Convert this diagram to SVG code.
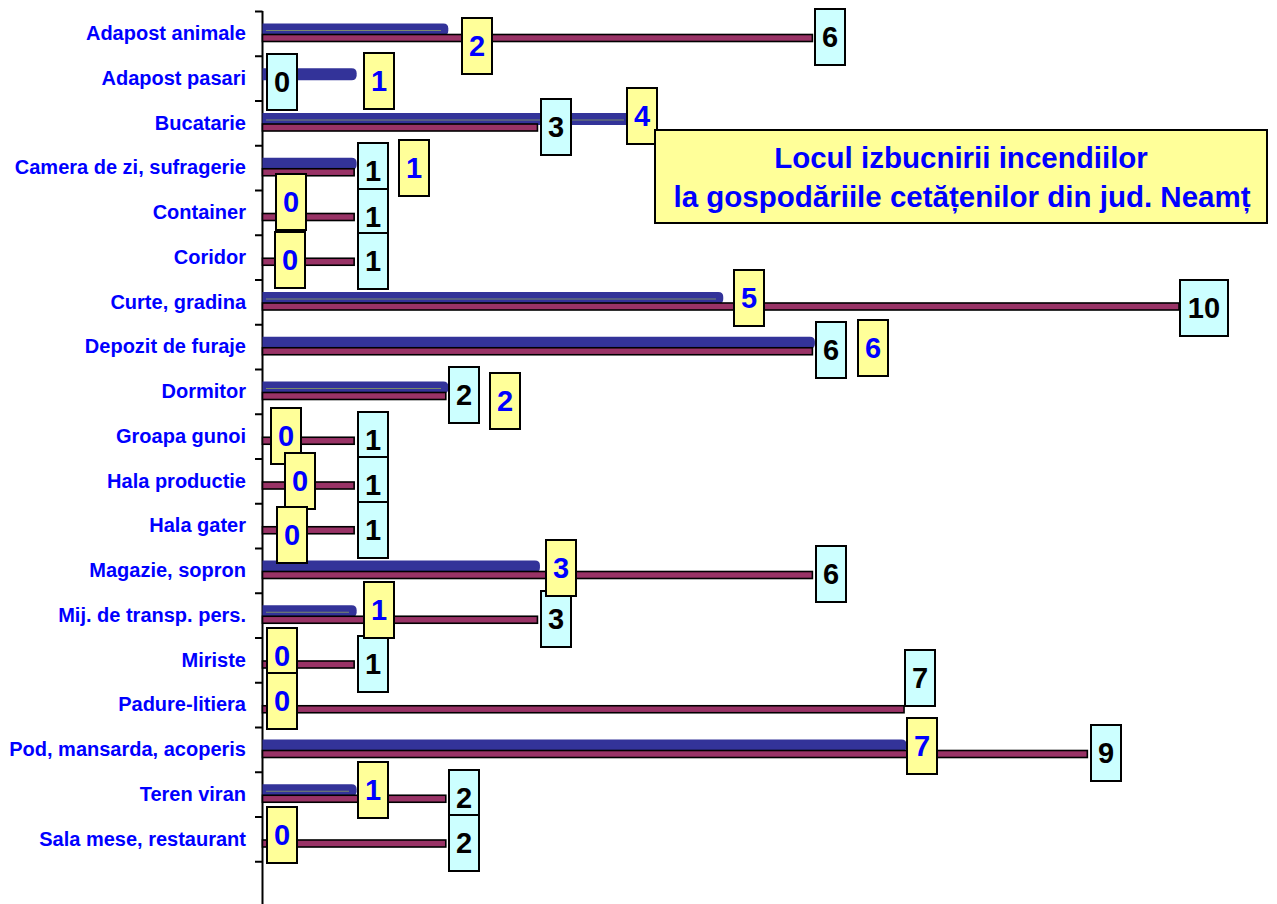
<svg xmlns="http://www.w3.org/2000/svg" width="1277" height="904" viewBox="0 0 1277 904">
<style>
.lbl{font-family:"Liberation Sans",Arial,sans-serif;font-weight:bold;font-size:20px;fill:#0000ff;text-anchor:end}
.blue{fill:#333399}
.hl{stroke:#7a8a6a;stroke-width:1}
.mar{fill:#993366;stroke:#000;stroke-width:1.6}
.cy rect{fill:#ccffff;stroke:#000;stroke-width:2}
.ye rect{fill:#ffff99;stroke:#000;stroke-width:2}
.cy text,.ye text{font-family:"Liberation Sans",Arial,sans-serif;font-weight:bold;font-size:29px;text-anchor:middle}
.cy text{fill:#000}
.ye text{fill:#0000ff}
.ttl{font-family:"Liberation Sans",Arial,sans-serif;font-weight:bold;font-size:29.5px;fill:#0000ff;text-anchor:middle}
</style>
<rect width="1277" height="904" fill="#fff"/>
<g id="axis" stroke="#000" stroke-width="2">
<line x1="262.5" y1="11" x2="262.5" y2="904"/>
<path d="M255 11.5H262.5M255 56.25H262.5M255 101H262.5M255 145.75H262.5M255 190.5H262.5M255 235.25H262.5M255 280H262.5M255 324.75H262.5M255 369.5H262.5M255 414.25H262.5M255 459H262.5M255 503.75H262.5M255 548.5H262.5M255 593.25H262.5M255 638H262.5M255 682.75H262.5M255 727.5H262.5M255 772.25H262.5M255 817H262.5M255 861.75H262.5"/>
</g>
<g id="category-labels">
<text class="lbl" x="246" y="40">Adapost animale</text>
<text class="lbl" x="246" y="84.75">Adapost pasari</text>
<text class="lbl" x="246" y="129.5">Bucatarie</text>
<text class="lbl" x="246" y="174.25">Camera de zi, sufragerie</text>
<text class="lbl" x="246" y="219">Container</text>
<text class="lbl" x="246" y="263.75">Coridor</text>
<text class="lbl" x="246" y="308.5">Curte, gradina</text>
<text class="lbl" x="246" y="353.25">Depozit de furaje</text>
<text class="lbl" x="246" y="398">Dormitor</text>
<text class="lbl" x="246" y="442.75">Groapa gunoi</text>
<text class="lbl" x="246" y="487.5">Hala productie</text>
<text class="lbl" x="246" y="532.25">Hala gater</text>
<text class="lbl" x="246" y="577">Magazie, sopron</text>
<text class="lbl" x="246" y="621.75">Mij. de transp. pers.</text>
<text class="lbl" x="246" y="666.5">Miriste</text>
<text class="lbl" x="246" y="711.25">Padure-litiera</text>
<text class="lbl" x="246" y="756">Pod, mansarda, acoperis</text>
<text class="lbl" x="246" y="800.75">Teren viran</text>
<text class="lbl" x="246" y="845.5">Sala mese, restaurant</text>
</g>
<g id="bars-blue">
<path class="blue" d="M262.5 23.5H443.3Q448.3 23.5 448.3 28.5V30.5Q448.3 35.5 443.3 35.5H262.5Z"/>
<path class="blue" d="M262.5 68.25H351.65Q356.65 68.25 356.65 73.25V75.25Q356.65 80.25 351.65 80.25H262.5Z"/>
<path class="blue" d="M262.5 113H626.6Q631.6 113 631.6 118V120Q631.6 125 626.6 125H262.5Z"/>
<path class="blue" d="M262.5 157.75H351.65Q356.65 157.75 356.65 162.75V164.75Q356.65 169.75 351.65 169.75H262.5Z"/>
<path class="blue" d="M262.5 292H718.25Q723.25 292 723.25 297V299Q723.25 304 718.25 304H262.5Z"/>
<path class="blue" d="M262.5 336.75H809.9Q814.9 336.75 814.9 341.75V343.75Q814.9 348.75 809.9 348.75H262.5Z"/>
<path class="blue" d="M262.5 381.5H443.3Q448.3 381.5 448.3 386.5V388.5Q448.3 393.5 443.3 393.5H262.5Z"/>
<path class="blue" d="M262.5 560.5H534.95Q539.95 560.5 539.95 565.5V567.5Q539.95 572.5 534.95 572.5H262.5Z"/>
<path class="blue" d="M262.5 605.25H351.65Q356.65 605.25 356.65 610.25V612.25Q356.65 617.25 351.65 617.25H262.5Z"/>
<path class="blue" d="M262.5 739.5H901.55Q906.55 739.5 906.55 744.5V746.5Q906.55 751.5 901.55 751.5H262.5Z"/>
<path class="blue" d="M262.5 784.25H351.65Q356.65 784.25 356.65 789.25V791.25Q356.65 796.25 351.65 796.25H262.5Z"/>
<g class="hl">
<line x1="266" y1="30.5" x2="441" y2="30.5"/>
<line x1="266" y1="120" x2="624" y2="120"/>
<line x1="266" y1="299" x2="716" y2="299"/>
<line x1="266" y1="388.5" x2="441" y2="388.5"/>
<line x1="266" y1="612.25" x2="349" y2="612.25"/>
<line x1="266" y1="791.25" x2="349" y2="791.25"/>
</g>
</g>
<g id="bars-maroon">
<rect class="mar" x="262.5" y="34.5" width="549.9" height="7"/>
<rect class="mar" x="262.5" y="124" width="274.95" height="7"/>
<rect class="mar" x="262.5" y="168.75" width="91.65" height="7"/>
<rect class="mar" x="262.5" y="213.5" width="91.65" height="7"/>
<rect class="mar" x="262.5" y="258.25" width="91.65" height="7"/>
<rect class="mar" x="262.5" y="303" width="916.5" height="7"/>
<rect class="mar" x="262.5" y="347.75" width="549.9" height="7"/>
<rect class="mar" x="262.5" y="392.5" width="183.3" height="7"/>
<rect class="mar" x="262.5" y="437.25" width="91.65" height="7"/>
<rect class="mar" x="262.5" y="482" width="91.65" height="7"/>
<rect class="mar" x="262.5" y="526.75" width="91.65" height="7"/>
<rect class="mar" x="262.5" y="571.5" width="549.9" height="7"/>
<rect class="mar" x="262.5" y="616.25" width="274.95" height="7"/>
<rect class="mar" x="262.5" y="661" width="91.65" height="7"/>
<rect class="mar" x="262.5" y="705.75" width="641.55" height="7"/>
<rect class="mar" x="262.5" y="750.5" width="824.85" height="7"/>
<rect class="mar" x="262.5" y="795.25" width="183.3" height="7"/>
<rect class="mar" x="262.5" y="840" width="183.3" height="7"/>
</g>
<g id="values-maroon" class="cy">
<g id="v2-adapost-animale"><rect x="815" y="9" width="30" height="56"/><text x="830" y="46.5">6</text></g>
<g id="v2-adapost-pasari"><rect x="267" y="54" width="30" height="56"/><text x="282" y="91.5">0</text></g>
<g id="v2-bucatarie"><rect x="541" y="99" width="30" height="56"/><text x="556" y="136.5">3</text></g>
<g id="v2-camera"><rect x="358" y="143" width="30" height="56"/><text x="373" y="180.5">1</text></g>
<g id="v2-container"><rect x="358" y="189" width="30" height="56"/><text x="373" y="226.5">1</text></g>
<g id="v2-coridor"><rect x="358" y="233" width="30" height="56"/><text x="373" y="270.5">1</text></g>
<g id="v2-curte"><rect x="1180" y="280" width="48" height="56"/><text x="1204" y="317.5">10</text></g>
<g id="v2-depozit"><rect x="816" y="322" width="30" height="56"/><text x="831" y="359.5">6</text></g>
<g id="v2-dormitor"><rect x="449" y="367" width="30" height="56"/><text x="464" y="404.5">2</text></g>
<g id="v2-groapa"><rect x="358" y="412" width="30" height="56"/><text x="373" y="449.5">1</text></g>
<g id="v2-hala-productie"><rect x="358" y="457" width="30" height="56"/><text x="373" y="494.5">1</text></g>
<g id="v2-hala-gater"><rect x="358" y="502" width="30" height="56"/><text x="373" y="539.5">1</text></g>
<g id="v2-magazie"><rect x="816" y="546" width="30" height="56"/><text x="831" y="583.5">6</text></g>
<g id="v2-mij"><rect x="541" y="591" width="30" height="56"/><text x="556" y="628.5">3</text></g>
<g id="v2-miriste"><rect x="358" y="636" width="30" height="56"/><text x="373" y="673.5">1</text></g>
<g id="v2-padure"><rect x="905" y="650" width="30" height="56"/><text x="920" y="687.5">7</text></g>
<g id="v2-pod"><rect x="1091" y="725" width="30" height="56"/><text x="1106" y="762.5">9</text></g>
<g id="v2-teren"><rect x="449" y="770" width="30" height="56"/><text x="464" y="807.5">2</text></g>
<g id="v2-sala"><rect x="449" y="815" width="30" height="56"/><text x="464" y="852.5">2</text></g>
</g>
<g id="values-blue" class="ye">
<g id="v1-adapost-animale"><rect x="462" y="18" width="30" height="56"/><text x="477" y="55.5">2</text></g>
<g id="v1-adapost-pasari"><rect x="364" y="53" width="30" height="56"/><text x="379" y="90.5">1</text></g>
<g id="v1-bucatarie"><rect x="627" y="88" width="30" height="56"/><text x="642" y="125.5">4</text></g>
<g id="v1-camera"><rect x="399" y="140" width="30" height="56"/><text x="414" y="177.5">1</text></g>
<g id="v1-container"><rect x="276" y="174" width="30" height="56"/><text x="291" y="211.5">0</text></g>
<g id="v1-coridor"><rect x="275" y="232" width="30" height="56"/><text x="290" y="269.5">0</text></g>
<g id="v1-curte"><rect x="734" y="270" width="30" height="56"/><text x="749" y="307.5">5</text></g>
<g id="v1-depozit"><rect x="858" y="320" width="30" height="56"/><text x="873" y="357.5">6</text></g>
<g id="v1-dormitor"><rect x="490" y="373" width="30" height="56"/><text x="505" y="410.5">2</text></g>
<g id="v1-groapa"><rect x="271" y="408" width="30" height="56"/><text x="286" y="445.5">0</text></g>
<g id="v1-hala-productie"><rect x="285" y="453" width="30" height="56"/><text x="300" y="490.5">0</text></g>
<g id="v1-hala-gater"><rect x="277" y="507" width="30" height="56"/><text x="292" y="544.5">0</text></g>
<g id="v1-magazie"><rect x="546" y="540" width="30" height="56"/><text x="561" y="577.5">3</text></g>
<g id="v1-mij"><rect x="364" y="582" width="30" height="56"/><text x="379" y="619.5">1</text></g>
<g id="v1-miriste"><rect x="267" y="628" width="30" height="56"/><text x="282" y="665.5">0</text></g>
<g id="v1-padure"><rect x="267" y="673" width="30" height="56"/><text x="282" y="710.5">0</text></g>
<g id="v1-pod"><rect x="907" y="718" width="30" height="56"/><text x="922" y="755.5">7</text></g>
<g id="v1-teren"><rect x="358" y="762" width="30" height="56"/><text x="373" y="799.5">1</text></g>
<g id="v1-sala"><rect x="267" y="807" width="30" height="56"/><text x="282" y="844.5">0</text></g>
</g>
<g id="title">
<rect x="655" y="130" width="612" height="93" fill="#ffff99" stroke="#000" stroke-width="2"/>
<text class="ttl" x="961" y="168">Locul izbucnirii incendiilor</text>
<text class="ttl" x="962" y="207">la gospodăriile cetățenilor din jud. Neamț</text>
</g>
</svg>
